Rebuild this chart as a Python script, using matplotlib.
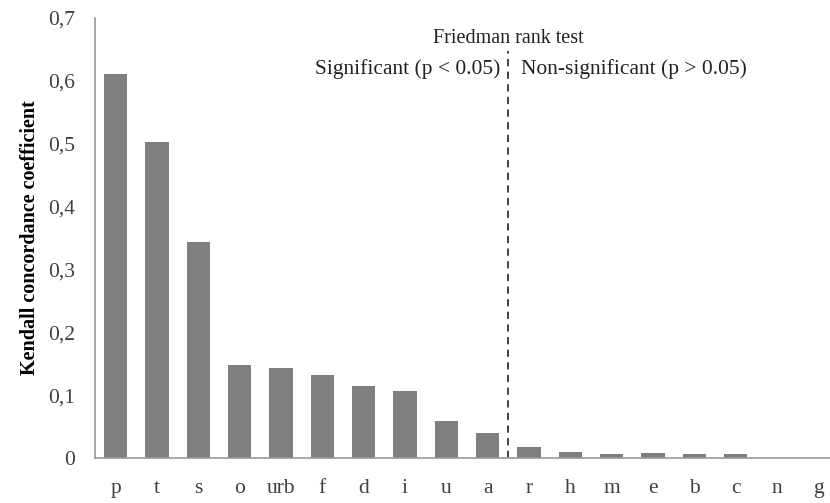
import matplotlib.pyplot as plt
import numpy as np

# Kendall concordance per category
categories = ['p', 't', 's', 'o', 'urb', 'f', 'd', 'i', 'u', 'a',
              'r', 'h', 'm', 'e', 'b', 'c', 'n', 'g']
kendall_w = [0.611, 0.503, 0.343, 0.148, 0.143, 0.132, 0.115, 0.106, 0.059, 0.040,
             0.017, 0.010, 0.007, 0.0075, 0.006, 0.006, 0.0, 0.0]
y_ticks = [0, 0.1, 0.2, 0.3, 0.4, 0.5, 0.6, 0.7]
y_tick_labels = ['0', '0,1', '0,2', '0,3', '0,4', '0,5', '0,6', '0,7']
n_significant = 10

plt.rcParams['font.family'] = ['Liberation Serif', 'DejaVu Serif']

W, H = 830, 503
fig = plt.figure(figsize=(W / 100, H / 100), dpi=100)
ax = fig.add_axes([95 / W, 45 / H, (W - 95) / W, 440 / H])

x = np.arange(len(categories))
ax.bar(x, kendall_w, width=0.56, color='#7f7f7f')

ax.set_xlim(-0.5, -0.5 + (W - 95) / 41.33)
ax.set_ylim(0, 0.7)
ax.set_xticks(x)
ax.set_xticklabels(categories, fontsize=15.5)
ax.set_yticks(y_ticks)
ax.set_yticklabels(y_tick_labels, fontsize=15.5, color='#404040')
ax.tick_params(axis='both', length=0, colors='#404040')
ax.tick_params(axis='x', pad=15)
ax.tick_params(axis='y', pad=14.5)

for side in ['top', 'right']:
    ax.spines[side].set_visible(False)
for side in ['left', 'bottom']:
    ax.spines[side].set_color('#999999')
    ax.spines[side].set_linewidth(1.2)

ax.set_ylabel('Kendall concordance coefficient', fontsize=14.5, fontweight='bold', labelpad=6)

# split between significant and non-significant
split = n_significant - 0.5
ax.plot([split, split], [0, 0.647], ls='--', color='#333333', lw=1.3, dashes=(4, 3))
ax.text(split, 0.668, 'Friedman rank test', ha='center', va='center', fontsize=14.5, color='#222222')
ax.text(split - 0.2, 0.619, 'Significant (p < 0.05)', ha='right', va='center', fontsize=15.5, color='#222222')
ax.text(split + 0.3, 0.619, 'Non-significant (p > 0.05)', ha='left', va='center', fontsize=15.5, color='#222222')

fig.savefig('out.png', dpi=100)
